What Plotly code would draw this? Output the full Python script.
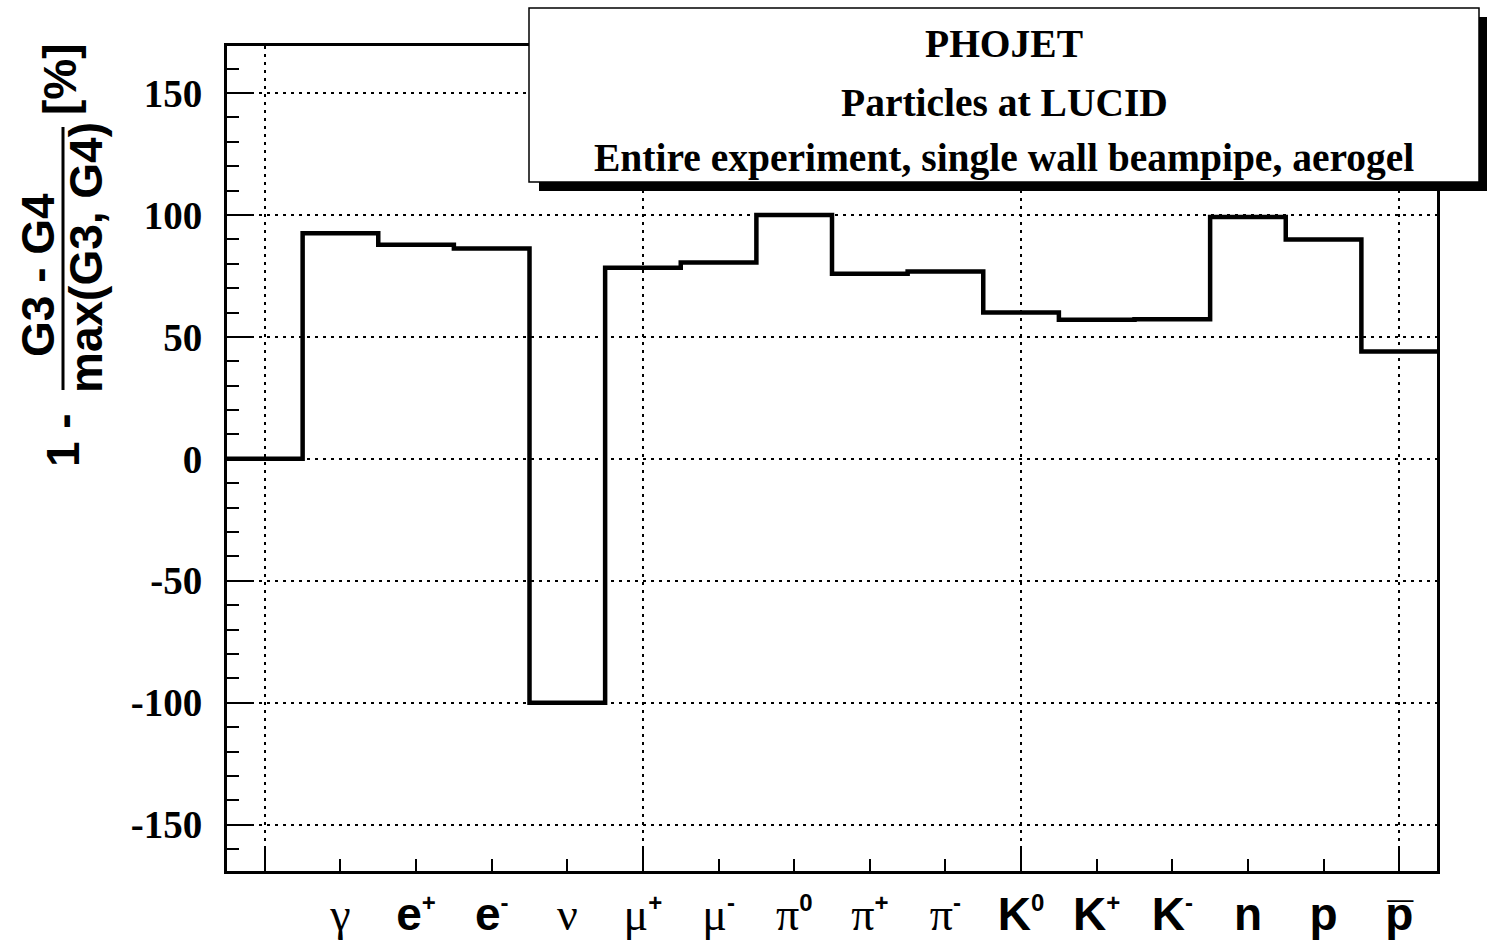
import plotly.graph_objects as go

# ---------------- data ----------------
bin_index = list(range(16))
values = [0.0, 92.5, 87.8, 86.3, -100.0, 78.4, 80.5, 100.0, 75.9, 76.8,
          60.0, 57.0, 57.2, 99.2, 90.0, 44.0]
y_tick_values = [-150, -100, -50, 0, 50, 100, 150]
y_tick_text = ["-150", "-100", "-50", "0", "50", "100", "150"]


def greek(s):
    return f'<span style="font-family:Liberation Serif;font-weight:normal">{s}</span>'


def sup(s):
    return f'<sup><span style="font-size:24px">{s}</span></sup>'


tick_labels = ["", greek("γ"), "e" + sup("+"), "e" + sup("-"), greek("ν"),
               greek("μ") + sup("+"), greek("μ") + sup("-"),
               greek("π") + sup("0"), greek("π") + sup("+"), greek("π") + sup("-"),
               "K" + sup("0"), "K" + sup("+"), "K" + sup("-"), "n", "p", "p\u0305"]

legend_lines = ["PHOJET", "Particles at LUCID",
                "Entire experiment, single wall beampipe, aerogel"]

# ---------------- geometry helpers (pixels -> paper) ----------------
W, H = 1487, 944
L, R, T, B = 227, 50, 46, 73
PW, PH = W - L - R, H - T - B


def px(x):
    return (x - L) / PW


def py(y):
    return (H - B - y) / PH


edges = [i - 0.5 for i in bin_index] + [bin_index[-1] + 0.5]
step_y = values + [values[-1]]

fig = go.Figure()
fig.add_trace(go.Scatter(x=edges, y=step_y, mode="lines", line_shape="hv",
                         line=dict(color="black", width=4.5), hoverinfo="skip",
                         showlegend=False))
# invisible trace to carry the label axis
fig.add_trace(go.Scatter(x=bin_index, y=values, mode="markers", xaxis="x2",
                         marker=dict(opacity=0), hoverinfo="skip", showlegend=False))

grid_dash = "3px,5px"
fig.update_layout(
    width=W, height=H,
    margin=dict(l=L, r=R, t=T, b=B, pad=0, autoexpand=False),
    plot_bgcolor="white", paper_bgcolor="white",
    xaxis=dict(range=[-0.5, 15.5], tickmode="linear", tick0=0, dtick=5,
               automargin=False,
               ticks="inside", ticklen=25, tickwidth=2, tickcolor="black",
               showticklabels=False, showline=True, linewidth=3, linecolor="black",
               mirror=True, showgrid=True, gridcolor="black", gridwidth=2,
               griddash=grid_dash, zeroline=False,
               minor=dict(dtick=1, tick0=0, ticks="inside", ticklen=12,
                          tickwidth=2, tickcolor="black", showgrid=False)),
    xaxis2=dict(range=[-0.5, 15.5], overlaying="x", side="bottom", anchor="y",
                automargin=False,
                tickmode="array", tickvals=bin_index, ticktext=tick_labels,
                ticks="", showline=False, showgrid=False, zeroline=False,
                ticklabelstandoff=12,
                tickfont=dict(family="Liberation Sans", size=46, color="black",
                              weight="bold")),
    yaxis=dict(range=[-169, 169.3], tickmode="array", tickvals=y_tick_values,
               ticktext=y_tick_text, automargin=False,
               ticks="inside", ticklen=25, tickwidth=2, tickcolor="black",
               showline=True, linewidth=3, linecolor="black", mirror=True,
               showgrid=True, gridcolor="black", gridwidth=2, griddash=grid_dash,
               zeroline=False, ticklabelstandoff=14,
               tickfont=dict(family="Liberation Serif", size=39, color="black",
                             weight="bold"),
               minor=dict(dtick=10, tick0=0, ticks="inside", ticklen=12,
                          tickwidth=2, tickcolor="black", showgrid=False)),
)

# legend box with shadow
shapes = [
    dict(type="rect", xref="paper", yref="paper", x0=px(539), x1=px(1489),
         y0=py(17), y1=py(191), fillcolor="black", line=dict(width=0), layer="above"),
    dict(type="rect", xref="paper", yref="paper", x0=px(529), x1=px(1479),
         y0=py(8), y1=py(182), fillcolor="white",
         line=dict(color="black", width=1.5), layer="above"),
    # fraction bar of the y title
    dict(type="line", xref="paper", yref="paper", x0=px(63), x1=px(63),
         y0=py(127), y1=py(390), line=dict(color="black", width=3), layer="above"),
]
fig.update_layout(shapes=shapes)

ann = []
for txt, yc in zip(legend_lines, [44, 103, 158]):
    ann.append(dict(text=txt, xref="paper", yref="paper", x=px(1004), y=py(yc),
                    xanchor="center", yanchor="middle", showarrow=False,
                    font=dict(family="Liberation Serif", size=39.5, color="black",
                              weight="bold")))

ytitle_font = dict(family="Liberation Sans", size=46, color="black", weight="bold")
for txt, xc, yc in [("1 -", 63, 440), ("G3 - G4", 38, 275),
                    ("max(G3, G4)", 86, 258), ("[%]", 60, 79)]:
    ann.append(dict(text=txt, xref="paper", yref="paper", x=px(xc), y=py(yc),
                    xanchor="center", yanchor="middle", showarrow=False,
                    textangle=-90, font=ytitle_font))
fig.update_layout(annotations=ann)

fig.write_html("out.html",
               config={"displayModeBar": False},
               post_script="document.body.style.margin='0px';"
                           "document.body.style.overflow='hidden';")
